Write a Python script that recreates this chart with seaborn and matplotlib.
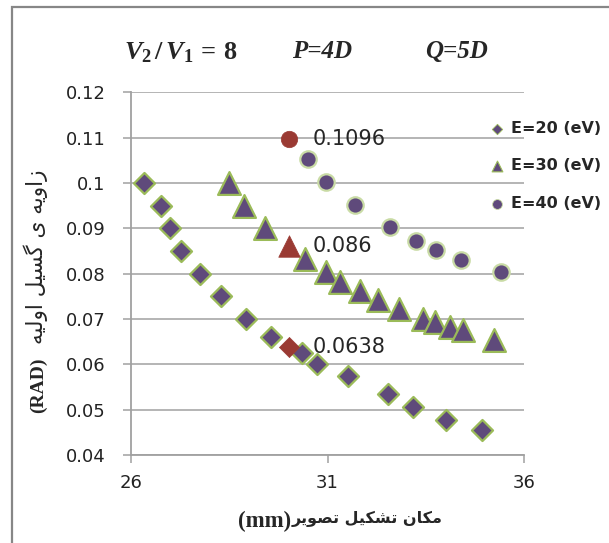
import matplotlib
matplotlib.use("Agg")
import matplotlib.pyplot as plt
import seaborn as sns
import pandas as pd
from matplotlib.patches import Rectangle

# ---------------- data ----------------
x_e20 = [26.34, 26.76, 27.01, 27.28, 27.75, 28.30, 28.93, 29.56, 30.35, 30.73,
         31.53, 32.54, 33.17, 34.02, 34.93]
y_e20 = [0.100, 0.095, 0.090, 0.085, 0.080, 0.075, 0.070, 0.066, 0.0624, 0.060,
         0.0575, 0.0535, 0.0505, 0.0477, 0.0455]

x_e30 = [28.49, 28.87, 29.40, 30.43, 30.96, 31.33, 31.82, 32.29, 32.82, 33.43,
         33.72, 34.10, 34.44, 35.24]
y_e30 = [0.100, 0.095, 0.090, 0.0833, 0.0804, 0.0782, 0.0761, 0.0741, 0.0723,
         0.0701, 0.0694, 0.0683, 0.0675, 0.0653]

x_e40 = [30.51, 30.96, 31.70, 32.58, 33.26, 33.75, 34.40, 35.41]
y_e40 = [0.1053, 0.1002, 0.0952, 0.0903, 0.0871, 0.0853, 0.0831, 0.0804]

mark_x = [30.01, 30.01, 30.01]
mark_y = [0.0638, 0.086, 0.1096]
mark_labels = ["0.0638", "0.086", "0.1096"]

series_labels = ["E=20 (eV)", "E=30 (eV)", "E=40 (eV)"]
x_ticks = [26, 31, 36]
y_ticks = [0.04, 0.05, 0.06, 0.07, 0.08, 0.09, 0.1, 0.11, 0.12]
y_tick_labels = ["0.04", "0.05", "0.06", "0.07", "0.08", "0.09", "0.1", "0.11", "0.12"]

# Persian labels (presentation forms in visual order so they render joined)
def visual(logical):
    return logical[::-1]

persian_y = ("\uFEAF\uFE8D\uFEED\uFBFE\uFEEA" + " " + "\uFBFC" + " " +
             "\uFB94\uFEB4\uFBFF\uFEDE" + " " + "\uFE8D\uFEED\uFEDF\uFBFF\uFEEA")
persian_x = ("\uFEE3\uFB91\uFE8E\uFEE5" + " " + "\uFE97\uFEB8\uFB91\uFBFF\uFEDE" + " " +
             "\uFE97\uFEBC\uFEEE\uFBFE\uFEAE")
ylabel_unit = "(RAD)"
xlabel_unit = "(mm)"

# ---------------- style ----------------
sns.set_style("white")
plt.rcParams["font.family"] = ["DejaVu Sans"]
plt.rcParams["mathtext.fontset"] = "custom"
plt.rcParams["mathtext.it"] = "Liberation Serif:italic:bold"
plt.rcParams["mathtext.rm"] = "Liberation Serif:bold"
plt.rcParams["mathtext.bf"] = "Liberation Serif:bold"

purple = "#5F4A7B"
green = "#9BBB59"
light_green = "#C9DBA5"
red = "#9A3A33"
grey = "#A0A0A0"

fig = plt.figure(figsize=(6.09, 5.43), dpi=100)
ax = fig.add_axes([130.7 / 609, 1 - 455 / 543, (524.3 - 130.7) / 609, (455 - 92.3) / 543])

df20 = pd.DataFrame({"x": x_e20, "y": y_e20})
df30 = pd.DataFrame({"x": x_e30, "y": y_e30})
df40 = pd.DataFrame({"x": x_e40, "y": y_e40})

sns.scatterplot(data=df20, x="x", y="y", ax=ax, marker="D", s=115, color=purple,
                edgecolor=green, linewidth=1.6, zorder=3)
sns.scatterplot(data=df30, x="x", y="y", ax=ax, marker="^", s=270, color=purple,
                edgecolor=green, linewidth=1.6, zorder=3)
sns.scatterplot(data=df40, x="x", y="y", ax=ax, marker="o", s=140, color=purple,
                edgecolor=light_green, linewidth=1.6, zorder=3)
sns.scatterplot(x=[mark_x[0]], y=[mark_y[0]], ax=ax, marker="D", s=105, color=red,
                edgecolor=red, linewidth=0.5, zorder=3)
sns.scatterplot(x=[mark_x[1]], y=[mark_y[1]], ax=ax, marker="^", s=240, color=red,
                edgecolor=red, linewidth=0.5, zorder=3)
sns.scatterplot(x=[mark_x[2]], y=[mark_y[2]], ax=ax, marker="o", s=140, color=red,
                edgecolor=red, linewidth=0.5, zorder=3)

for mx, my, lab in zip(mark_x, mark_y, mark_labels):
    ax.annotate(lab, (mx, my), xytext=(24, 0), textcoords="offset pixels",
                ha="left", va="center", fontsize=15, color="#262626", zorder=4)

ax.set_xlim(26, 36)
ax.set_ylim(0.04, 0.12)
ax.set_xticks(x_ticks)
ax.set_xticklabels([str(t) for t in x_ticks])
ax.set_yticks(y_ticks)
ax.set_yticklabels(y_tick_labels)
ax.grid(axis="y", color=grey, linewidth=1.1)
ax.grid(axis="x", visible=False)
ax.set_axisbelow(True)
for side in ["top", "right"]:
    ax.spines[side].set_visible(False)
for side in ["left", "bottom"]:
    ax.spines[side].set_color(grey)
    ax.spines[side].set_linewidth(1.3)
ax.tick_params(axis="y", direction="out", length=6, width=1.1, color=grey, pad=12,
               labelsize=13, labelcolor="#222222", left=True)
ax.tick_params(axis="x", direction="out", length=5.5, width=1.1, color=grey, pad=8,
               labelsize=13, labelcolor="#222222", bottom=True)
ax.set_xlabel("")
ax.set_ylabel("")

# axis titles
fig.text(291 / 609, 1 - 521 / 543, xlabel_unit, ha="right", va="center",
         fontsize=16.5, fontweight="bold", family="Liberation Serif")
fig.text(292 / 609, 1 - 519 / 543, visual(persian_x), ha="left", va="center",
         fontsize=11.5, fontweight="bold", family="DejaVu Sans")
fig.text(38 / 609, 1 - 413 / 543, ylabel_unit, ha="center", va="bottom",
         rotation=90, fontsize=14, fontweight="bold", family="Liberation Serif")
fig.text(36 / 609, 1 - 344 / 543, visual(persian_y), ha="center", va="bottom",
         rotation=90, fontsize=15.5, family="DejaVu Sans")

# header annotations
fig.text(124 / 609, 1 - 52 / 543, r"$V_2\,/\,V_1\,=\,8$", ha="left", va="center",
         fontsize=19)
fig.text(292 / 609, 1 - 52 / 543, "P=4D", ha="left", va="center", fontsize=18,
         family="Liberation Serif", fontweight="bold", style="italic")
fig.text(425 / 609, 1 - 52 / 543, "Q=5D", ha="left", va="center", fontsize=18,
         family="Liberation Serif", fontweight="bold", style="italic")

# legend
h1 = ax.scatter([], [], marker="D", s=28, color=purple, edgecolor=green, linewidth=0.6)
h2 = ax.scatter([], [], marker="^", s=60, color=purple, edgecolor=green, linewidth=0.8)
h3 = ax.scatter([], [], marker="o", s=50, color=purple, edgecolor=light_green, linewidth=0.6)
fig.legend([h1, h2, h3], series_labels, loc="upper left",
           bbox_to_anchor=(489 / 609, 1 - 121 / 543), bbox_transform=fig.transFigure,
           frameon=False, borderpad=0, borderaxespad=0, handlelength=1.0,
           handletextpad=0.35, labelspacing=1.4,
           prop={"family": "DejaVu Sans", "weight": "bold", "size": 11.5})

# outer chart frame
fig.patches.append(Rectangle((11.5 / 609, -0.05), 1.1, 1 - 6.5 / 543 + 0.05,
                             transform=fig.transFigure, fill=False,
                             edgecolor="#878787", linewidth=1.6, zorder=0))

fig.savefig("out.png", dpi=100)
